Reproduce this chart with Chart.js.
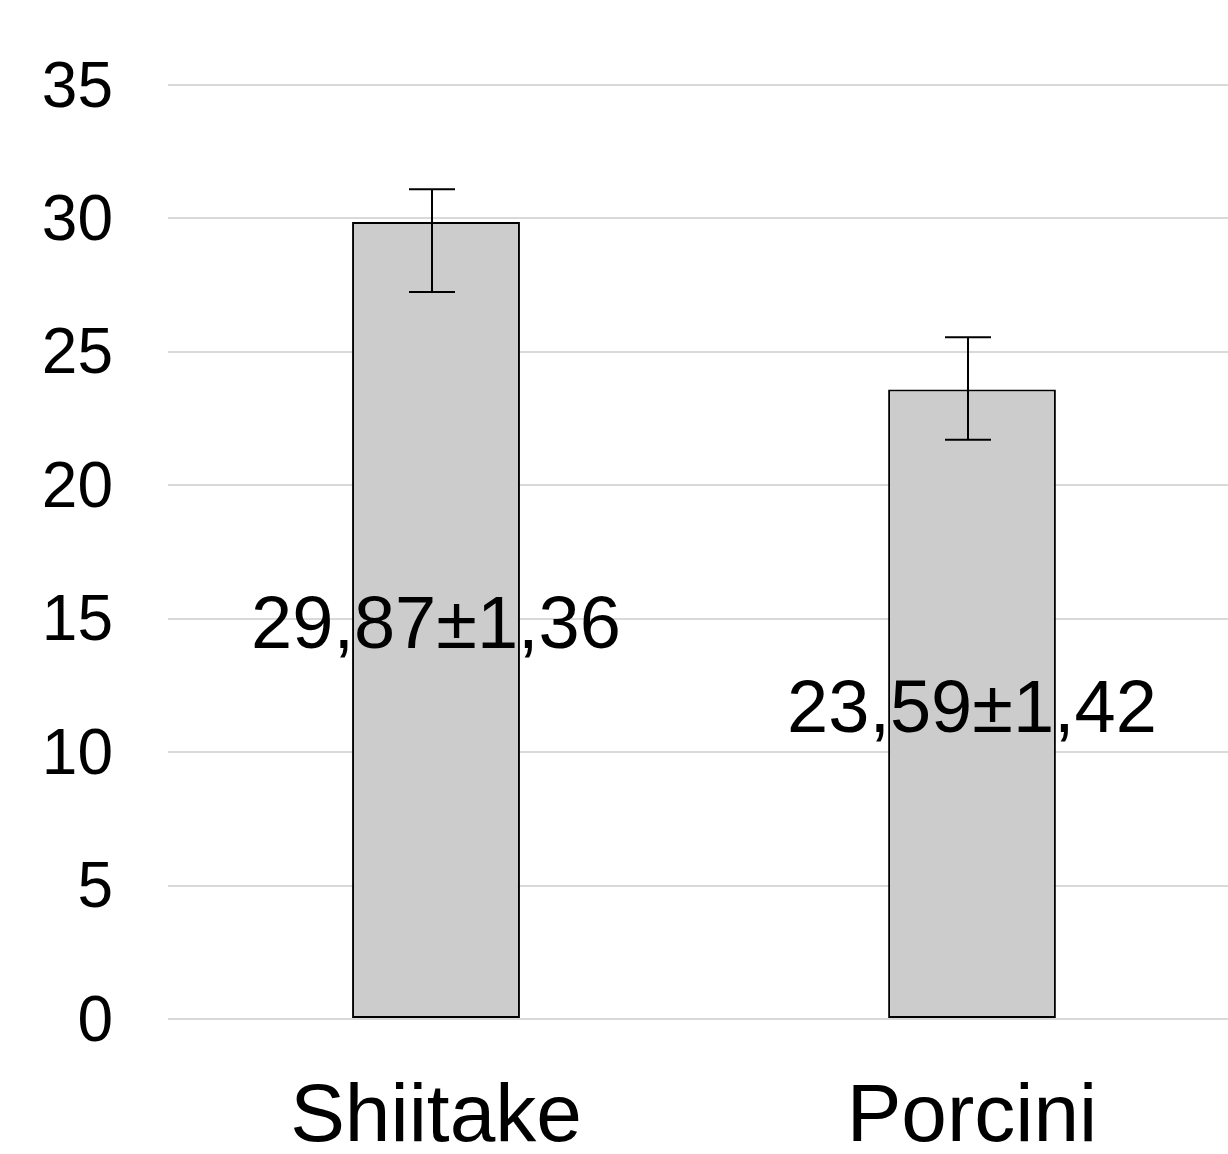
<!DOCTYPE html>
<html lang="pt-BR">
<head>
  <meta charset="UTF-8">
  <title>Shiitake x Porcini</title>
  <script src="https://cdn.jsdelivr.net/npm/chart.js"></script>
  <style>
    html, body {
      margin: 0;
      padding: 0;
      background: #fff;
      overflow: hidden;
    }
    #wrap {
      width: 1240px;
      height: 1154px;
    }
  </style>
</head>
<body>
  <div id="wrap">
    <canvas id="grafico" width="1240" height="1154"></canvas>
  </div>

  <script>
    // dados
    const categorias = ['Shiitake', 'Porcini'];
    const medias = [29.87, 23.59];
    const erroCima = [1.22, 1.96];
    const erroBaixo = [2.63, 1.88];
    const rotulos = ['29,87±1,36', '23,59±1,42'];
    const yTicks = [0, 5, 10, 15, 20, 25, 30, 35];

    const fonte = 'Arial, "Liberation Sans", sans-serif';

    // barras de erro
    const errorBars = {
      id: 'errorBars',
      afterDatasetsDraw(chart) {
        const ctx = chart.ctx;
        const y = chart.scales.y;
        const meta = chart.getDatasetMeta(0);
        ctx.save();
        ctx.strokeStyle = '#000';
        ctx.lineWidth = 2;
        meta.data.forEach((bar, i) => {
          const x = bar.x - 4;
          const topo = y.getPixelForValue(medias[i] + erroCima[i]);
          const base = y.getPixelForValue(medias[i] - erroBaixo[i]);
          ctx.beginPath();
          ctx.moveTo(x, topo);
          ctx.lineTo(x, base);
          ctx.moveTo(x - 23, topo);
          ctx.lineTo(x + 23, topo);
          ctx.moveTo(x - 23, base);
          ctx.lineTo(x + 23, base);
          ctx.stroke();
        });
        ctx.restore();
      }
    };

    // rótulos no meio da barra
    const rotulosBarras = {
      id: 'rotulosBarras',
      afterDraw(chart) {
        const ctx = chart.ctx;
        const meta = chart.getDatasetMeta(0);
        ctx.save();
        ctx.fillStyle = '#000';
        ctx.font = '74px ' + fonte;
        ctx.textAlign = 'center';
        ctx.textBaseline = 'alphabetic';
        meta.data.forEach((bar, i) => {
          // baseline meia altura de maiúscula abaixo do centro da barra
          ctx.fillText(rotulos[i], bar.x, (bar.y + bar.base) / 2 + 28);
        });
        ctx.restore();
      }
    };

    new Chart(document.getElementById('grafico'), {
      type: 'bar',
      data: {
        labels: categorias,
        datasets: [{
          data: medias,
          backgroundColor: '#cccccc',
          borderColor: '#000',
          borderWidth: 2,
          borderSkipped: false,
          categoryPercentage: 0.313,
          barPercentage: 1
        }]
      },
      options: {
        responsive: false,
        animation: false,
        layout: { padding: { top: 85, right: 0, left: 0, bottom: 0 } },
        plugins: {
          legend: { display: false },
          tooltip: { enabled: false }
        },
        scales: {
          x: {
            grid: { display: false },
            border: { display: false },
            ticks: {
              color: '#000',
              font: { family: fonte, size: 82 },
              padding: 42
            },
            afterFit(scale) { scale.height = 135; }
          },
          y: {
            min: 0,
            max: 35,
            afterBuildTicks(scale) {
              scale.ticks = yTicks.map(v => ({ value: v }));
            },
            grid: { color: '#d9d9d9', lineWidth: 2, drawTicks: false },
            border: { display: false },
            ticks: {
              color: '#000',
              font: { family: fonte, size: 64, lineHeight: 0.9 },
              padding: 55,
              labelOffset: 4
            },
            afterFit(scale) { scale.width = 168; }
          }
        }
      },
      plugins: [errorBars, rotulosBarras]
    });
  </script>
</body>
</html>
